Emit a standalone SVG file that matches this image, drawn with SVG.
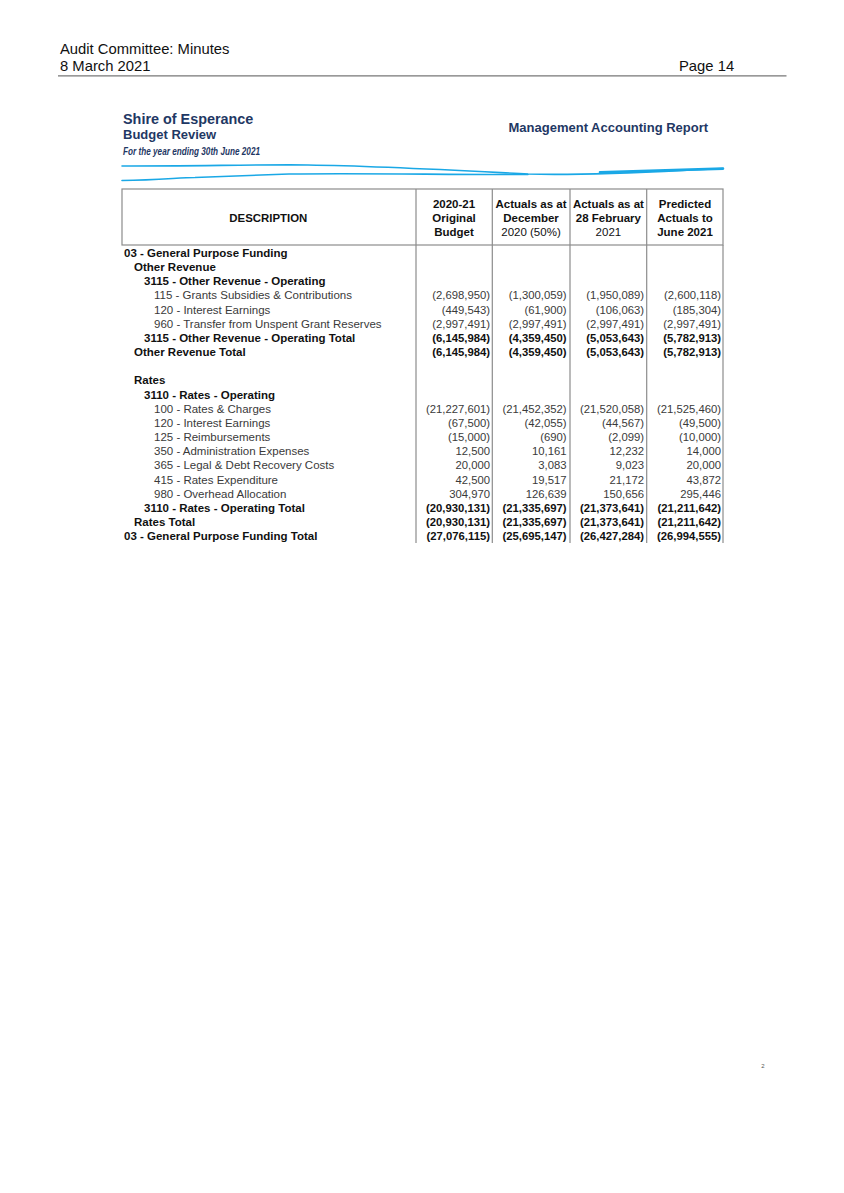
<svg xmlns="http://www.w3.org/2000/svg" width="844" height="1193" viewBox="0 0 844 1193">
<style>
text{font-family:"Liberation Sans",Arial,sans-serif}
.pg{font-size:14.8px;fill:#111}
.navy{fill:#1f3864;font-weight:bold}
.hd{font-size:11.5px;font-weight:bold;fill:#111;text-anchor:middle}
.hdr{font-size:11.5px;fill:#111;text-anchor:middle}
.lb{font-size:11.5px;font-weight:bold;fill:#111}
.lr{font-size:11.5px;fill:#3a3a3a}
.nb{font-size:11.3px;font-weight:bold;fill:#111;text-anchor:end}
.nr{font-size:11.3px;fill:#3a3a3a;text-anchor:end}
.grid{stroke:#8c8c8c;stroke-width:1.2;fill:none}
.wave{stroke:#1aa8e6;fill:none;stroke-linecap:round}
</style>
<rect width="844" height="1193" fill="#fff"/>
<g id="page-header">
<text class="pg" x="60" y="53.5">Audit Committee: Minutes</text>
<text class="pg" x="60" y="70.5">8 March 2021</text>
<text class="pg" x="679" y="70.5">Page 14</text>
<line x1="58" y1="75.8" x2="786.5" y2="75.8" stroke="#777" stroke-width="1.3"/>
</g>
<g id="report-title">
<text class="navy" x="123" y="124" font-size="14.4">Shire of Esperance</text>
<text class="navy" x="123" y="138.5" font-size="13">Budget Review</text>
<text x="123" y="155" font-size="10" font-style="italic" font-weight="bold" fill="#1f3864" textLength="137" lengthAdjust="spacingAndGlyphs">For the year ending 30th June 2021</text>
<text class="navy" x="508.5" y="131.5" font-size="13">Management Accounting Report</text>
<path class="wave" stroke-width="1.6" d="M122,166 C200,166 260,164.5 308,165 C380,166 450,170 528,174 C600,176 680,170 723,168.5"/>
<path class="wave" stroke-width="1.6" d="M122,180.5 C160,180 180,177.5 195,177.5 C240,176 270,174.5 289,174 C380,173 450,175 528,174.5"/>
<path class="wave" stroke-width="2.6" d="M600,172.3 C650,171 690,169.5 723,168.6"/>
</g>
<g id="table-grid">
<rect class="grid" x="122" y="189" width="601" height="56"/>
<line class="grid" x1="416" y1="189" x2="416" y2="543"/>
<line class="grid" x1="492.3" y1="189" x2="492.3" y2="543"/>
<line class="grid" x1="570" y1="189" x2="570" y2="543"/>
<line class="grid" x1="646.7" y1="189" x2="646.7" y2="543"/>
<line class="grid" x1="723" y1="245" x2="723" y2="543"/>
</g>
<g id="table-header">
<text class="hd" x="268.3" y="221.7" textLength="78" lengthAdjust="spacingAndGlyphs">DESCRIPTION</text>
<text class="hd" x="454" y="208.1">2020-21</text>
<text class="hd" x="454" y="221.8">Original</text>
<text class="hd" x="454" y="235.8">Budget</text>
<text class="hd" x="531" y="208.1">Actuals as at</text>
<text class="hd" x="531" y="221.8">December</text>
<text class="hdr" x="531" y="235.8">2020 (50%)</text>
<text class="hd" x="608.4" y="208.1">Actuals as at</text>
<text class="hd" x="608.4" y="221.8">28 February</text>
<text class="hdr" x="608.4" y="235.8">2021</text>
<text class="hd" x="685" y="208.1">Predicted</text>
<text class="hd" x="685" y="221.8">Actuals to</text>
<text class="hd" x="685" y="235.8">June 2021</text>
</g>
<g id="section-other-revenue">
<text class="lb" x="124" y="256.8">03 - General Purpose Funding</text>
<text class="lb" x="134" y="271">Other Revenue</text>
<text class="lb" x="144" y="285.1">3115 - Other Revenue - Operating</text>
<text class="lr" x="154" y="299.3">115 - Grants Subsidies &amp; Contributions</text>
<text class="nr" x="490" y="299.3">(2,698,950)</text><text class="nr" x="566.5" y="299.3">(1,300,059)</text><text class="nr" x="644" y="299.3">(1,950,089)</text><text class="nr" x="721" y="299.3">(2,600,118)</text>
<text class="lr" x="154" y="313.5">120 - Interest Earnings</text>
<text class="nr" x="490" y="313.5">(449,543)</text><text class="nr" x="566.5" y="313.5">(61,900)</text><text class="nr" x="644" y="313.5">(106,063)</text><text class="nr" x="721" y="313.5">(185,304)</text>
<text class="lr" x="154" y="327.7">960 - Transfer from Unspent Grant Reserves</text>
<text class="nr" x="490" y="327.7">(2,997,491)</text><text class="nr" x="566.5" y="327.7">(2,997,491)</text><text class="nr" x="644" y="327.7">(2,997,491)</text><text class="nr" x="721" y="327.7">(2,997,491)</text>
<text class="lb" x="144" y="341.8">3115 - Other Revenue - Operating Total</text>
<text class="nb" x="490" y="341.8">(6,145,984)</text><text class="nb" x="566.5" y="341.8">(4,359,450)</text><text class="nb" x="644" y="341.8">(5,053,643)</text><text class="nb" x="721" y="341.8">(5,782,913)</text>
<text class="lb" x="134" y="356">Other Revenue Total</text>
<text class="nb" x="490" y="356">(6,145,984)</text><text class="nb" x="566.5" y="356">(4,359,450)</text><text class="nb" x="644" y="356">(5,053,643)</text><text class="nb" x="721" y="356">(5,782,913)</text>
</g>
<g id="section-rates">
<text class="lb" x="134" y="384.3">Rates</text>
<text class="lb" x="144" y="398.5">3110 - Rates - Operating</text>
<text class="lr" x="154" y="412.7">100 - Rates &amp; Charges</text>
<text class="nr" x="490" y="412.7">(21,227,601)</text><text class="nr" x="566.5" y="412.7">(21,452,352)</text><text class="nr" x="644" y="412.7">(21,520,058)</text><text class="nr" x="721" y="412.7">(21,525,460)</text>
<text class="lr" x="154" y="426.8">120 - Interest Earnings</text>
<text class="nr" x="490" y="426.8">(67,500)</text><text class="nr" x="566.5" y="426.8">(42,055)</text><text class="nr" x="644" y="426.8">(44,567)</text><text class="nr" x="721" y="426.8">(49,500)</text>
<text class="lr" x="154" y="441">125 - Reimbursements</text>
<text class="nr" x="490" y="441">(15,000)</text><text class="nr" x="566.5" y="441">(690)</text><text class="nr" x="644" y="441">(2,099)</text><text class="nr" x="721" y="441">(10,000)</text>
<text class="lr" x="154" y="455.2">350 - Administration Expenses</text>
<text class="nr" x="490" y="455.2">12,500</text><text class="nr" x="566.5" y="455.2">10,161</text><text class="nr" x="644" y="455.2">12,232</text><text class="nr" x="721" y="455.2">14,000</text>
<text class="lr" x="154" y="469.4">365 - Legal &amp; Debt Recovery Costs</text>
<text class="nr" x="490" y="469.4">20,000</text><text class="nr" x="566.5" y="469.4">3,083</text><text class="nr" x="644" y="469.4">9,023</text><text class="nr" x="721" y="469.4">20,000</text>
<text class="lr" x="154" y="483.5">415 - Rates Expenditure</text>
<text class="nr" x="490" y="483.5">42,500</text><text class="nr" x="566.5" y="483.5">19,517</text><text class="nr" x="644" y="483.5">21,172</text><text class="nr" x="721" y="483.5">43,872</text>
<text class="lr" x="154" y="497.7">980 - Overhead Allocation</text>
<text class="nr" x="490" y="497.7">304,970</text><text class="nr" x="566.5" y="497.7">126,639</text><text class="nr" x="644" y="497.7">150,656</text><text class="nr" x="721" y="497.7">295,446</text>
<text class="lb" x="144" y="511.9">3110 - Rates - Operating Total</text>
<text class="nb" x="490" y="511.9">(20,930,131)</text><text class="nb" x="566.5" y="511.9">(21,335,697)</text><text class="nb" x="644" y="511.9">(21,373,641)</text><text class="nb" x="721" y="511.9">(21,211,642)</text>
<text class="lb" x="134" y="526">Rates Total</text>
<text class="nb" x="490" y="526">(20,930,131)</text><text class="nb" x="566.5" y="526">(21,335,697)</text><text class="nb" x="644" y="526">(21,373,641)</text><text class="nb" x="721" y="526">(21,211,642)</text>
<text class="lb" x="124" y="540.2">03 - General Purpose Funding Total</text>
<text class="nb" x="490" y="540.2">(27,076,115)</text><text class="nb" x="566.5" y="540.2">(25,695,147)</text><text class="nb" x="644" y="540.2">(26,427,284)</text><text class="nb" x="721" y="540.2">(26,994,555)</text>
</g>
<g id="page-number">
<text x="763" y="1068" font-size="6" fill="#555" text-anchor="middle">2</text>
</g>
</svg>
